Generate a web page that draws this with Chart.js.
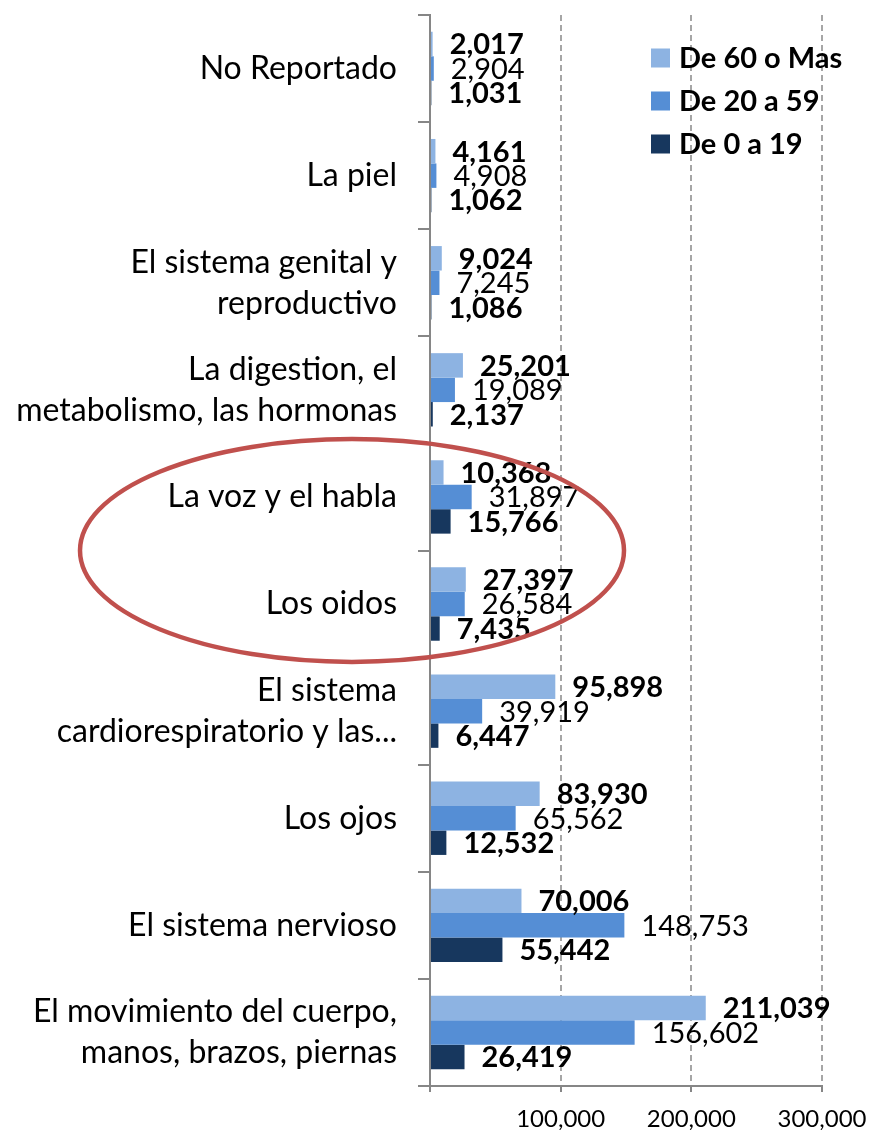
<!DOCTYPE html>
<html>
<head>
<meta charset="utf-8">
<script src="https://cdn.jsdelivr.net/npm/chart.js@4.4.1/dist/chart.umd.min.js"></script>
<style>
  html, body { margin: 0; padding: 0; background: #fff; }
  #contenedor { width: 873px; height: 1130px; position: relative; }
</style>
</head>
<body>
<div id="contenedor"><canvas id="graficoDiscapacidad"></canvas></div>
<script>
// Datos
const categorias = [
  'No Reportado',
  'La piel',
  ['El sistema genital y', 'reproductivo'],
  ['La digestion, el', 'metabolismo, las hormonas'],
  'La voz y el habla',
  'Los oidos',
  ['El sistema', 'cardiorespiratorio y las...'],
  'Los ojos',
  'El sistema nervioso',
  ['El movimiento del cuerpo,', 'manos, brazos, piernas']
];
const de60oMas = [2017, 4161, 9024, 25201, 10368, 27397, 95898, 83930, 70006, 211039];
const de20a59  = [2904, 4908, 7245, 19089, 31897, 26584, 39919, 65562, 148753, 156602];
const de0a19   = [1031, 1062, 1086, 2137, 15766, 7435, 6447, 12532, 55442, 26419];
const nombresSeries = ['De 60 o Mas', 'De 20 a 59', 'De 0 a 19'];
const coloresSeries = ['#8db3e2', '#558ed5', '#17375e'];
const seriesNegrita = [true, false, true]; // etiquetas en negrita
const maxEje = 300000;
const pasoEje = 100000;
const categoriasResaltadas = [4, 5]; // las que rodea el circulo rojo

const fuente = 'Lato, "Open Sans", sans-serif';
const fmt = v => v.toLocaleString('en-US');

// Etiquetas de valor al final de cada barra
const etiquetasDatos = {
  id: 'etiquetasDatos',
  afterDatasetsDraw(chart) {
    const ctx = chart.ctx;
    ctx.save();
    ctx.fillStyle = '#000';
    ctx.textAlign = 'left';
    ctx.textBaseline = 'middle';
    chart.data.datasets.forEach((ds, i) => {
      const meta = chart.getDatasetMeta(i);
      ctx.font = (seriesNegrita[i] ? 'bold ' : '') + '29px ' + fuente;
      meta.data.forEach((barra, j) => {
        ctx.fillText(fmt(ds.data[j]), barra.x + 17, barra.y + 1);
      });
    });
    ctx.restore();
  }
};

// Leyenda dentro del area, arriba a la derecha
const leyenda = {
  id: 'leyenda',
  afterDraw(chart) {
    const { ctx, chartArea } = chart;
    const x0 = chartArea.right - 171;
    ctx.save();
    ctx.textAlign = 'left';
    ctx.textBaseline = 'middle';
    ctx.font = 'bold 29px ' + fuente;
    chart.data.datasets.forEach((ds, i) => {
      const yc = chartArea.top + 43 + i * 43;
      ctx.fillStyle = ds.backgroundColor;
      ctx.fillRect(x0, yc - 9.5, 19, 19);
      ctx.fillStyle = '#000';
      ctx.fillText(ds.label, x0 + 28, yc + 1);
    });
    ctx.restore();
  }
};

// Ovalo rojo alrededor de las categorias resaltadas
const ovalo = {
  id: 'ovalo',
  afterDraw(chart) {
    const { ctx, chartArea } = chart;
    const y = chart.scales.y;
    const a = y.getPixelForValue(categoriasResaltadas[0]);
    const b = y.getPixelForValue(categoriasResaltadas[1]);
    const cy = (a + b) / 2;
    const ry = Math.abs(b - a) * 1.04;
    ctx.save();
    ctx.strokeStyle = '#c0504d';
    ctx.lineWidth = 4.5;
    ctx.beginPath();
    ctx.ellipse(chartArea.left - 78, cy, 272, ry, 0, 0, Math.PI * 2);
    ctx.stroke();
    ctx.restore();
  }
};

const series = [de60oMas, de20a59, de0a19];
const datasets = series.map((datos, i) => ({
  label: nombresSeries[i],
  data: datos,
  backgroundColor: coloresSeries[i],
  borderWidth: 0,
  categoryPercentage: 0.685,
  barPercentage: 1.0
}));

new Chart(document.getElementById('graficoDiscapacidad'), {
  type: 'bar',
  data: { labels: categorias, datasets: datasets },
  options: {
    indexAxis: 'y',
    responsive: true,
    maintainAspectRatio: false,
    animation: false,
    layout: { padding: { top: 15, right: 51, bottom: 0, left: 0 } },
    plugins: {
      legend: { display: false },
      tooltip: { enabled: false }
    },
    scales: {
      x: {
        min: 0,
        max: maxEje,
        ticks: {
          stepSize: pasoEje,
          callback: v => (v === 0 ? '' : fmt(v)),
          font: { family: fuente, size: 24 },
          color: '#000',
          padding: 13,
          maxRotation: 0
        },
        grid: {
          color: '#a6a6a6',
          lineWidth: 2,
          tickLength: 6,
          tickColor: '#868686',
          tickWidth: 2
        },
        border: { color: '#868686', width: 2, dash: [6, 4] },
        afterFit(scale) {
          scale.height = 44;
          scale.paddingLeft = 0;
          scale.paddingRight = 0;
        }
      },
      y: {
        grid: {
          drawOnChartArea: false,
          offset: true,
          tickLength: 12,
          color: '#868686',
          lineWidth: 2
        },
        border: { color: '#868686', width: 2 },
        ticks: {
          font: { family: fuente, size: 32, lineHeight: 1.28 },
          color: '#000',
          padding: 21,
          autoSkip: false
        },
        afterFit(scale) {
          scale.width = 430;
          scale.paddingTop = 0;
          scale.paddingBottom = 0;
        }
      }
    }
  },
  plugins: [etiquetasDatos, leyenda, ovalo]
});
</script>
</body>
</html>
